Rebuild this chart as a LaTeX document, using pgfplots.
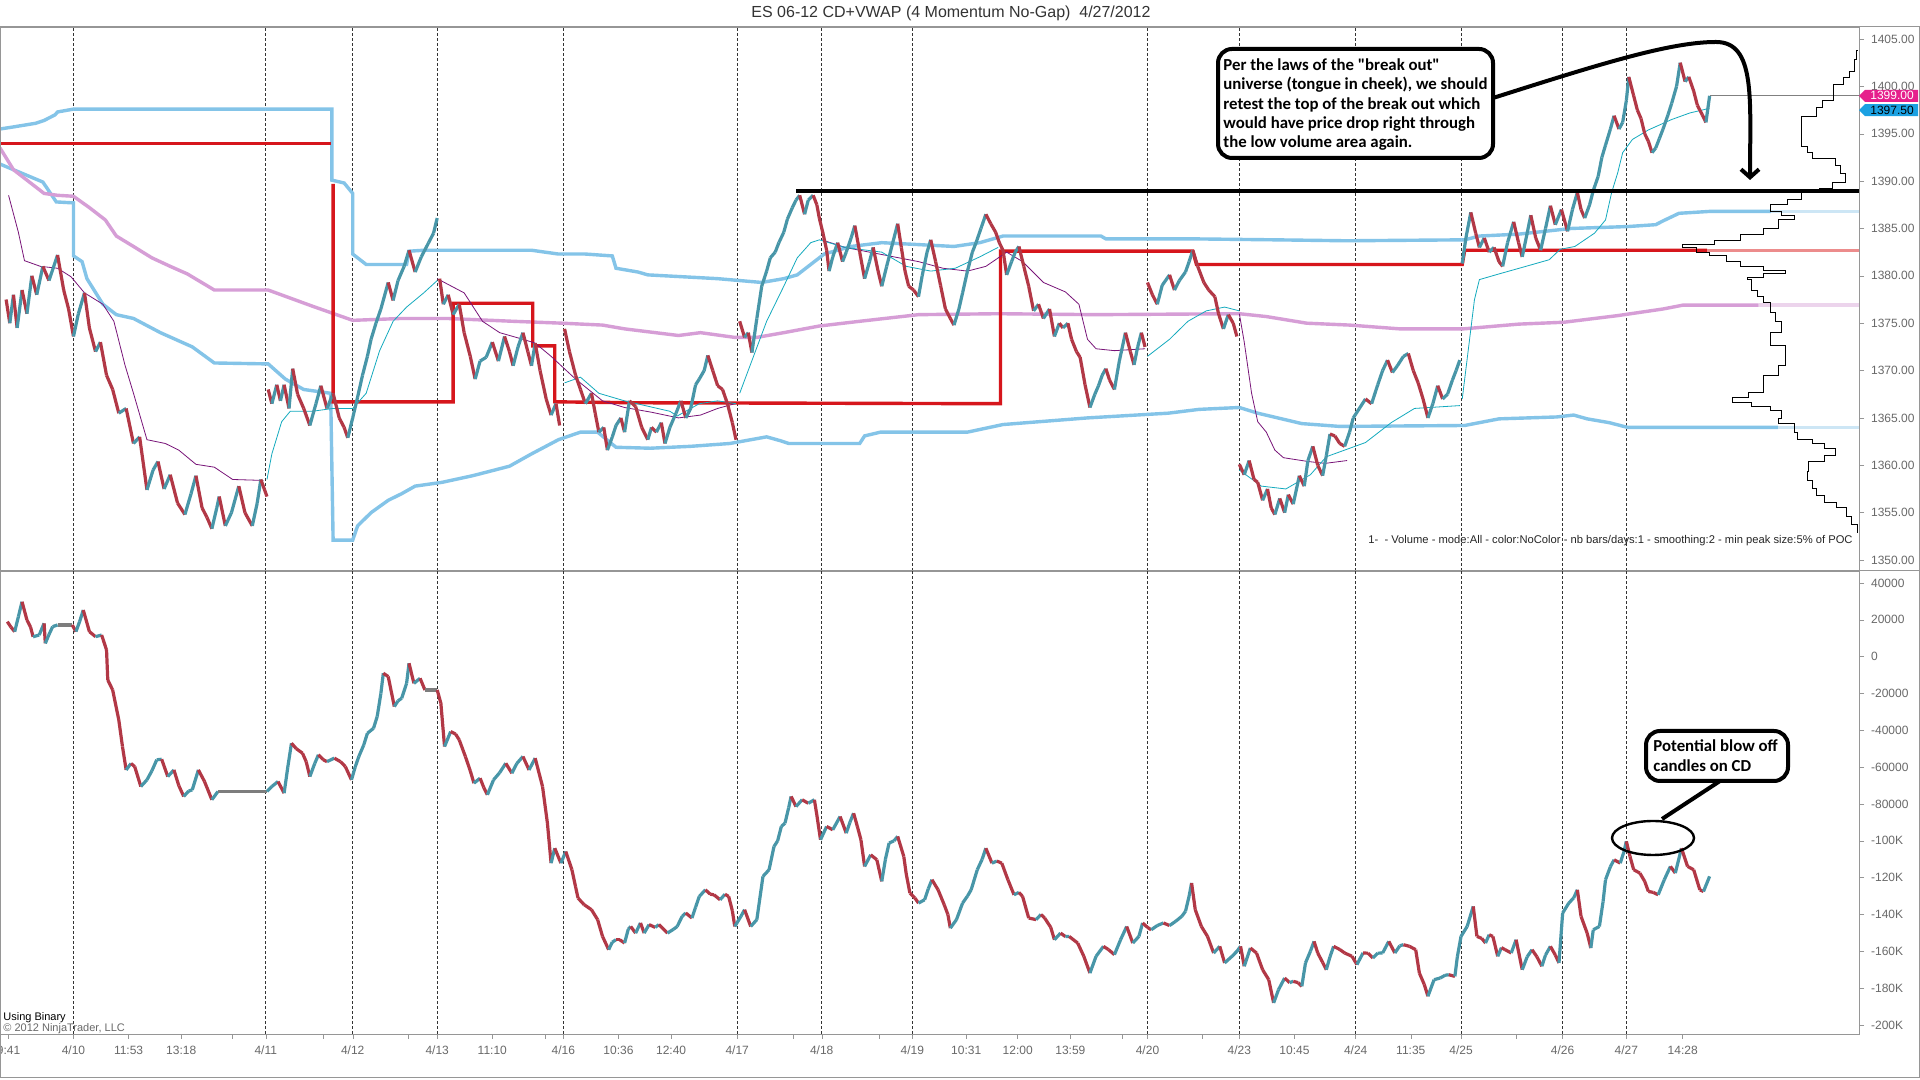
\documentclass[border=0pt]{standalone}
\usepackage{fontspec}
\setmainfont{Liberation Sans}
\newfontfamily\callfont{Carlito}
\usepackage{pgfplots}
\pgfplotsset{compat=1.18}
\usetikzlibrary{arrows.meta}
\definecolor{bandblue}{RGB}{132,196,232}
\definecolor{bandbluel}{RGB}{205,230,245}
\definecolor{pinkv}{RGB}{214,158,214}
\definecolor{pinkvl}{RGB}{236,212,236}
\definecolor{pocred}{RGB}{214,22,28}
\definecolor{pocredl}{RGB}{236,140,140}
\definecolor{thinpurple}{RGB}{120,20,120}
\definecolor{thincyan}{RGB}{20,170,190}
\definecolor{framegray}{RGB}{150,150,150}
\definecolor{labgray}{RGB}{105,105,105}
\definecolor{mkmag}{RGB}{230,32,140}
\definecolor{mkcyan}{RGB}{27,161,226}
\pgfplotsset{colormap={candle}{rgb255=(178,56,70) rgb255=(125,125,125) rgb255=(72,150,168)}}
\pgfplotsset{
  candles/.style={mesh, shader=flat corner, colormap name=candle, point meta=explicit,
    point meta min=0, point meta max=1, line width=1.6pt},
  band/.style={line width=1.7pt, bandblue},
  common/.style={scale only axis, width=929.5pt, xmin=0, xmax=1518, clip=false,
    axis line style={draw=framegray}, tick style={draw=framegray},
    tick align=outside, major tick length=2.5pt,
    ytick pos=right, yticklabel pos=right,
    yticklabel style={font=\fontsize{6}{7}\selectfont, text=labgray},
    major grid style={draw=black!80, dash pattern=on 1.5pt off 1pt, line width=0.4pt},
    extra x ticks={60,217,288,357,460,602,671,745,937,1012,1107,1193,1276,1328},
    extra x tick labels={},
    extra x tick style={grid=major, major tick length=0pt}},
}
\begin{document}
\begin{tikzpicture}
\path[use as bounding box] (0,0) rectangle (960pt,540pt);
\fill[white] (0,0) rectangle (960pt,540pt);
% ================= TOP PANEL =================
\begin{axis}[common, at={(0pt,254.5pt)}, anchor=south west, height=272pt,
  ymin=1348.84, ymax=1406.27, xtick=\empty,
  ytick={1350,1355,1360,1365,1370,1375,1380,1385,1390,1395,1400,1405},
  yticklabels={1350.00,1355.00,1360.00,1365.00,1370.00,1375.00,1380.00,1385.00,1390.00,1395.00,1400.00,1405.00}]
% upper band
\addplot[band] table {
x y
0 1395.5
10 1395.7
29 1396.1
36 1396.4
45 1397.0
47 1397.3
60 1397.6
271 1397.6
271 1390.1
281 1389.8
288 1388.7
288 1382.3
299 1381.2
332 1381.2
334 1382.6
346 1382.7
434 1382.7
456 1382.3
478 1382.3
500 1382.1
503 1380.8
521 1380.4
529 1380.1
572 1379.8
586 1379.7
622 1379.3
640 1379.7
651 1380.1
662 1381.2
673 1382.3
684 1382.7
695 1383.1
720 1383.5
779 1383.1
800 1383.5
819 1384.2
899 1384.2
903 1383.9
975 1383.9
1041 1383.8
1100 1383.7
1196 1383.8
1208 1384.2
1240 1384.4
1283 1385.0
1329 1385.2
1352 1385.4
1358 1385.8
1371 1386.6
1396 1386.8
1446 1386.8
};
\addplot[line width=1.7pt, bandbluel] table {
x y
1446 1386.8
1518 1386.8
};
% lower band
\addplot[band] table {
x y
0 1391.8
35 1389.9
46 1387.8
60 1387.7
60 1382.1
67 1381.5
71 1379.7
84 1377.0
95 1375.9
109 1375.5
131 1374.0
157 1372.5
175 1370.8
219 1370.7
233 1369.1
248 1368.0
270 1367.6
272 1352.1
288 1352.1
292 1353.6
303 1355.0
317 1356.3
328 1357.0
339 1357.8
361 1358.2
386 1358.9
416 1359.9
434 1361.2
456 1362.7
474 1363.5
488 1363.5
503 1361.9
531 1361.8
564 1362.0
596 1362.3
626 1363.0
637 1362.6
644 1362.3
702 1362.3
706 1363.1
719 1363.5
790 1363.5
819 1364.3
888 1365.0
954 1365.5
979 1365.9
1012 1366.1
1027 1365.5
1063 1364.4
1094 1364.1
1196 1364.2
1224 1364.9
1271 1365.1
1285 1365.3
1296 1364.9
1314 1364.5
1329 1364.0
1452 1364.0
};
\addplot[line width=1.7pt, bandbluel] table {
x y
1452 1364.0
1518 1364.0
};
% long vwap (pink)
\addplot[line width=1.7pt, pinkv] table {
x y
0 1393.5
11 1391.2
36 1388.7
47 1388.5
60 1388.4
73 1387.2
86 1385.9
95 1384.2
109 1383.1
124 1381.9
139 1381.0
153 1380.2
175 1378.5
219 1378.5
255 1376.8
288 1375.3
328 1375.5
365 1375.5
419 1375.2
459 1375.0
492 1374.8
510 1374.4
554 1373.7
572 1374.0
600 1373.5
618 1373.5
640 1374.0
669 1374.7
702 1375.2
750 1375.9
815 1376.0
895 1375.9
1012 1376.0
1034 1375.7
1067 1375.0
1102 1374.8
1143 1374.4
1195 1374.4
1240 1374.9
1277 1375.1
1321 1375.8
1358 1376.5
1374 1376.9
1436 1376.9
};
\addplot[line width=1.7pt, pinkvl] table {
x y
1436 1376.9
1518 1376.9
};
% red POC steps
\addplot[line width=1.7pt, pocred] table {
x y
0 1394.0
270 1394.0
};
\addplot[line width=1.7pt, pocred] table {
x y
272 1389.7
272 1366.7
370 1366.7
370 1377.1
435 1377.1
435 1372.6
453 1372.6
453 1366.7
520 1366.6
817 1366.5
817 1382.6
974 1382.6
977 1381.2
1194 1381.2
1196 1382.7
1394 1382.7
};
\addplot[line width=1.7pt, pocredl] table {
x y
1394 1382.7
1518 1382.7
};
% thin purple
\addplot[thinpurple, line width=0.4pt] table {
x y
7 1388.5
15 1384.6
20 1381.6
33 1381.0
47 1380.8
58 1379.9
69 1378.2
84 1377.0
93 1375.2
102 1370.6
109 1367.6
120 1362.7
135 1362.3
146 1361.6
160 1360.1
175 1359.8
190 1358.5
215 1358.4
};
\addplot[thinpurple, line width=0.4pt] table {
x y
357 1379.7
379 1378.2
394 1375.2
408 1374.0
427 1373.3
437 1372.9
450 1371.5
470 1369.1
492 1366.8
510 1366.1
532 1365.6
554 1365.0
572 1365.3
586 1366.0
600 1366.5
};
\addplot[thinpurple, line width=0.4pt] table {
x y
671 1383.8
690 1383.0
710 1382.5
730 1382.0
750 1381.5
770 1380.8
790 1380.5
805 1381.0
822 1382.5
835 1381.5
852 1379.3
870 1378.3
881 1377.0
888 1373.3
895 1372.3
910 1372.1
935 1372.3
};
\addplot[thinpurple, line width=0.4pt] table {
x y
1012 1376.0
1016 1373.0
1022 1367.6
1027 1364.6
1034 1363.5
1041 1361.6
1048 1360.8
1068 1360.4
1082 1360.2
1100 1360.5
};
% thin cyan
\addplot[thincyan, line width=0.4pt] table {
x y
218 1358.5
222 1361.2
230 1364.6
237 1365.7
255 1365.7
272 1366.0
288 1366.0
299 1367.6
310 1372.1
321 1375.2
332 1376.7
346 1378.2
357 1379.5
};
\addplot[thincyan, line width=0.4pt] table {
x y
461 1368.7
474 1369.3
489 1367.6
510 1366.8
547 1365.7
553 1365.2
571 1366.5
586 1366.8
601 1366.5
};
\addplot[thincyan, line width=0.4pt] table {
x y
604 1367.6
615 1371.4
626 1375.2
640 1378.9
651 1381.9
662 1383.5
669 1383.8
690 1383.0
720 1382.5
740 1381.0
760 1380.5
780 1380.8
800 1382.0
815 1383.0
};
\addplot[thincyan, line width=0.4pt] table {
x y
937 1371.5
955 1373.3
970 1375.2
985 1376.3
1000 1376.7
1012 1376.3
};
\addplot[thincyan, line width=0.4pt] table {
x y
1012 1359.5
1030 1357.8
1050 1357.5
1070 1359.0
1083 1360.9
1115 1362.4
1136 1364.5
1155 1366.0
1192 1366.3
};
\addplot[thincyan, line width=0.4pt] table {
x y
1194 1367.0
1198 1371.2
1204 1377.5
1208 1379.6
1224 1380.2
1246 1381.0
1265 1381.7
1274 1382.8
1286 1383.1
1302 1384.5
1311 1385.9
1316 1388.8
1321 1390.9
1325 1393.0
1333 1394.4
1346 1395.4
1365 1396.5
1380 1397.2
1390 1397.5
1396 1397.7
};
% price (momentum candles)
\addplot[candles] table[meta=m] {
x y m
5 1377.5 0
8 1375.0 1
11 1378.0 0
14 1374.5 1
18 1378.5 0
22 1376.0 1
26 1380.0 0
30 1378.0 1
35 1381.0 0
40 1379.5 1
47 1382.2 0
52 1378.5 0
56 1376.5 0
60 1373.6 1
64 1376.0 1
69 1378.2 0
73 1374.5 0
78 1372.0 1
82 1373.0 0
87 1369.5 0
92 1368.0 0
97 1365.5 1
103 1366.0 0
109 1362.3 1
114 1363.0 0
120 1357.4 1
125 1359.5 1
129 1360.4 0
134 1357.5 1
139 1359.0 0
145 1356.0 0
151 1354.8 1
156 1357.0 1
160 1358.9 0
165 1355.5 0
169 1354.5 0
173 1353.3 1
177 1355.5 1
179 1356.7 0
184 1353.6 1
189 1355.0 1
195 1357.8 0
200 1355.0 0
206 1353.6 1
210 1356.0 1
213 1358.5 0
218 1356.7 0
};
\addplot[candles] table[meta=m] {
x y m
219 1368.0 0
222 1366.5 1
226 1368.5 0
229 1366.8 1
232 1368.5 0
236 1366.0 1
239 1370.2 0
243 1367.5 0
248 1366.0 0
253 1364.2 1
258 1366.5 1
262 1368.4 0
267 1366.0 1
272 1367.6 0
277 1365.0 0
281 1364.0 0
284 1362.9 1
288 1365.0 1
292 1367.2 1
296 1369.5 1
300 1371.5 1
303 1373.3 1
307 1375.0 1
311 1376.5 1
317 1379.3 0
321 1377.4 1
325 1379.5 1
330 1381.0 1
334 1382.7 0
339 1380.4 1
344 1382.0 1
350 1383.5 1
354 1384.5 1
357 1386.1 1
};
\addplot[candles] table[meta=m] {
x y m
359 1379.7 0
362 1377.0 1
366 1378.0 0
370 1375.9 1
375 1377.0 0
379 1374.0 0
384 1371.5 0
388 1369.1 1
392 1371.0 1
397 1371.4 1
402 1373.0 0
407 1371.0 1
412 1373.6 0
416 1372.0 0
419 1370.5 1
423 1372.5 1
427 1374.0 0
431 1372.0 0
434 1370.5 1
437 1372.9 0
441 1370.0 0
446 1367.0 0
450 1365.3 1
454 1366.5 0
457 1364.2 0
};
\addplot[candles] table[meta=m] {
x y m
461 1374.4 0
465 1372.0 0
470 1369.5 0
474 1368.0 0
478 1366.5 1
483 1367.6 0
486 1365.5 0
489 1363.5 1
493 1364.0 0
496 1361.6 1
500 1363.0 1
503 1364.2 1
507 1365.0 0
510 1363.5 1
514 1366.8 0
519 1366.2 0
524 1364.0 0
529 1362.7 1
532 1364.0 0
536 1363.5 1
540 1364.5 0
543 1362.3 1
547 1364.0 1
552 1365.5 1
556 1366.8 0
560 1365.0 1
564 1366.0 1
568 1368.5 1
571 1369.1 1
575 1370.0 1
578 1371.6 0
582 1370.0 0
586 1368.4 0
590 1368.0 0
594 1366.5 0
598 1364.5 0
601 1362.7 0
};
\addplot[candles] table[meta=m] {
x y m
604 1375.2 0
608 1373.5 1
611 1374.0 0
614 1371.9 1
618 1375.5 1
622 1378.9 1
626 1380.5 1
629 1381.9 1
633 1382.5 1
636 1383.5 1
640 1384.6 1
643 1386.0 1
647 1387.2 1
650 1388.0 1
653 1388.5 0
657 1386.5 1
660 1388.0 1
664 1388.5 0
667 1387.5 0
669 1386.1 0
672 1384.5 0
675 1382.7 0
677 1380.5 1
680 1382.0 1
684 1383.5 0
688 1381.5 1
691 1382.5 1
695 1384.0 1
698 1385.3 0
702 1382.5 0
706 1379.7 1
710 1381.5 1
713 1383.0 0
717 1380.5 0
720 1378.9 1
724 1381.0 1
729 1383.5 1
733 1385.5 0
736 1383.0 0
739 1380.5 0
742 1378.9 0
746 1378.5 0
750 1377.8 1
753 1380.0 1
757 1382.5 1
760 1383.8 0
764 1381.5 0
768 1379.0 0
772 1376.5 0
776 1375.5 0
779 1374.8 1
783 1376.5 1
786 1378.2 1
790 1380.5 1
794 1382.5 1
797 1383.5 1
801 1385.0 1
805 1386.5 0
809 1385.5 0
813 1384.6 0
816 1383.5 0
819 1382.7 0
822 1380.1 1
826 1381.5 1
829 1382.5 1
832 1383.1 0
836 1381.0 0
840 1378.9 0
844 1376.3 1
848 1377.0 0
852 1375.5 1
857 1376.5 0
861 1373.6 1
865 1375.0 0
868 1374.5 1
872 1375.0 0
875 1373.3 0
879 1372.0 0
882 1371.4 0
886 1368.5 0
890 1366.1 1
894 1367.5 1
897 1368.4 1
900 1369.5 1
903 1370.2 0
906 1369.0 0
910 1368.0 1
914 1371.0 1
919 1374.0 0
923 1372.0 0
926 1370.6 1
929 1372.5 1
932 1374.0 0
935 1372.5 0
};
\addplot[candles] table[meta=m] {
x y m
937 1379.3 0
941 1378.0 0
945 1377.0 1
949 1379.0 1
955 1380.1 0
959 1378.5 1
963 1379.5 1
968 1380.4 1
971 1381.5 1
974 1382.7 0
978 1381.0 0
983 1379.3 0
987 1378.5 0
992 1377.8 0
995 1376.0 0
999 1374.4 1
1003 1375.9 0
1007 1375.0 0
1010 1373.6 0
};
\addplot[candles] table[meta=m] {
x y m
1012 1360.1 0
1016 1359.0 1
1020 1360.5 0
1024 1358.5 0
1027 1358.2 0
1031 1356.3 1
1035 1357.5 0
1038 1355.5 0
1041 1354.8 1
1045 1356.5 0
1049 1355.0 1
1052 1356.9 0
1056 1355.9 1
1061 1358.9 0
1065 1357.8 1
1068 1360.5 1
1072 1362.0 0
1076 1360.0 0
1080 1358.9 1
1083 1361.0 1
1086 1363.3 0
1090 1363.1 0
1094 1362.3 0
1098 1362.0 1
1102 1363.5 1
1105 1365.0 1
1110 1366.0 1
1115 1367.0 0
1120 1366.5 1
1125 1368.5 1
1129 1370.0 1
1133 1371.1 0
1137 1369.8 1
1141 1370.5 1
1146 1371.5 1
1150 1371.8 0
1154 1370.0 0
1158 1368.7 0
1162 1367.0 0
1166 1365.0 1
1170 1366.5 1
1174 1368.4 0
1178 1367.0 1
1182 1367.5 1
1186 1369.0 1
1189 1370.0 1
1192 1371.1 1
};
\addplot[candles] table[meta=m] {
x y m
1194 1381.3 1
1197 1384.0 1
1201 1386.7 0
1205 1384.5 0
1208 1383.0 1
1212 1384.0 0
1216 1382.5 1
1220 1383.0 0
1224 1381.5 0
1227 1381.0 1
1231 1383.5 1
1236 1385.7 0
1240 1383.5 0
1243 1382.0 1
1247 1384.5 1
1250 1386.4 0
1254 1384.0 0
1258 1382.7 1
1262 1385.0 1
1266 1387.4 0
1270 1385.4 1
1275 1387.0 0
1280 1384.7 1
1284 1387.0 1
1288 1388.8 0
1291 1387.0 0
1294 1386.1 1
1298 1387.5 1
1301 1389.0 1
1305 1390.5 1
1308 1392.5 1
1311 1393.8 1
1315 1395.5 1
1318 1396.9 0
1322 1395.5 1
1325 1396.2 1
1328 1398.5 1
1330 1401.0 0
1334 1399.0 0
1337 1397.5 0
1340 1396.6 0
1343 1395.0 0
1346 1394.2 0
1349 1393.0 1
1352 1393.5 1
1355 1394.5 1
1358 1395.5 1
1362 1397.0 1
1365 1398.2 1
1369 1400.0 1
1372 1402.5 0
1376 1400.5 1
1379 1401.0 0
1383 1399.5 0
1386 1398.0 0
1390 1397.0 0
1393 1396.2 1
1396 1399.0 1
};
% last price line
\addplot[gray, line width=0.4pt] table {
x y
1396 1399.0
1518 1399.0
};
% volume profile
\addplot[black, line width=0.5pt, const plot] table {
x y
1517 1403.8
1516 1402.8
1514 1401.6
1510 1400.9
1505 1400.2
1497 1399.5
1497 1398.5
1488 1397.8
1483 1396.8
1471 1396.0
1471 1393.7
1476 1393.0
1480 1392.4
1499 1391.6
1503 1390.8
1507 1389.8
1496 1389.2
1486 1388.8
1471 1388.1
1460 1387.5
1446 1386.8
1455 1386.4
1465 1385.9
1452 1385.0
1440 1384.4
1421 1383.7
1400 1383.3
1374 1383.0
1385 1382.5
1396 1382.1
1410 1381.5
1421 1381.0
1440 1380.6
1458 1380.2
1440 1379.8
1427 1379.6
1430 1378.5
1435 1377.8
1440 1377.2
1446 1376.1
1450 1375.2
1455 1374.0
1446 1372.6
1458 1371.8
1458 1370.5
1452 1369.5
1440 1367.7
1428 1367.2
1415 1366.6
1430 1366.2
1446 1365.8
1455 1364.9
1452 1364.4
1465 1363.5
1468 1362.7
1480 1362.3
1490 1361.8
1499 1361.0
1490 1360.4
1477 1359.3
1476 1358.4
1480 1357.5
1483 1356.8
1490 1356.1
1500 1355.5
1508 1354.6
1512 1353.8
1517 1352.8
};
% break-out line
\addplot[black, line width=2pt] table {
x y
650 1389.0
1518 1389.0
};
% price markers on right axis
\fill[mkmag] (axis cs:1518,1399.0) -- ++(3pt,3pt) -- ++(26.5pt,0pt) -- ++(0pt,-6pt) -- ++(-26.5pt,0pt) -- cycle;
\node[text=white, font=\fontsize{6}{7}\selectfont, inner sep=0pt] at ([xshift=16.5pt]axis cs:1518,1399.0) {1399.00};
\fill[mkcyan] (axis cs:1518,1397.5) -- ++(3pt,3pt) -- ++(26.5pt,0pt) -- ++(0pt,-6pt) -- ++(-26.5pt,0pt) -- cycle;
\node[text=black, font=\fontsize{6}{7}\selectfont, inner sep=0pt] at ([xshift=16.5pt]axis cs:1518,1397.5) {1397.50};
\end{axis}
% ================= BOTTOM PANEL (values in thousands) =================
\begin{axis}[common, at={(0pt,23pt)}, anchor=south west, height=231.5pt,
  ymin=-204.887, ymax=46.516, scaled y ticks=false,
  ytick={-200,-180,-160,-140,-120,-100,-80,-60,-40,-20,0,20,40},
  yticklabels={-200K,-180K,-160K,-140K,-120K,-100K,-80000,-60000,-40000,-20000,0,20000,40000},
  xtick pos=bottom, xticklabel pos=bottom,
  xtick={7,60,105,148,190,217,264,288,333,357,402,445,460,505,548,602,648,671,718,745,789,831,874,916,937,982,1012,1057,1107,1152,1193,1238,1276,1328,1374},
  xticklabels={9:41,4/10,11:53,13:18,,4/11,,4/12,,4/13,11:10,,4/16,10:36,12:40,4/17,,4/18,,4/19,10:31,12:00,13:59,,4/20,,4/23,10:45,4/24,11:35,4/25,,4/26,4/27,14:28},
  xticklabel style={font=\fontsize{6}{7}\selectfont, text=labgray}]
\addplot[candles] table[meta=m] {
x y m
6 19.0 0
9 16.0 0
12 13.56 1
15 21.7 1
18 29.8 0
22 19.9 0
25 16.0 0
27 10.8 1
32 11.75 1
36 18.1 0
37 7.2 1
40 12.0 1
43 16.3 1
47 17.2 0.5
59 17.2 0
62 13.6 1
65 19.0 1
68 25.3 0
73 13.6 0
78 10.85 1
83 11.75 0
87 3.6 0
88 -12.65 0
92 -18.1 0
97 -34.35 0
100 -48.8 0
103 -61.5 1
107 -58.0 0
110 -59.7 0
115 -70.5 1
120 -66.9 1
124 -62.0 1
128 -56.0 1
132 -55.7 0
137 -65.1 1
142 -61.5 0
146 -70.0 0
150 -75.9 1
154 -73.0 1
157 -72.3 1
162 -61.5 0
167 -67.8 0
173 -77.7 1
178 -73.2 0.5
218 -73.2 1
222 -70.5 1
227 -67.8 0
232 -74.1 1
235 -60.0 1
238 -47.0 0
242 -50.0 0
247 -52.4 0
250 -57.0 0
253 -65.1 1
257 -58.0 1
260 -53.3 0
264 -56.0 0
267 -57.0 1
273 -55.1 0
278 -57.0 0
282 -59.7 0
287 -66.9 1
290 -60.0 1
293 -54.2 1
297 -48.0 1
300 -41.6 1
305 -38.9 1
308 -32.5 1
311 -20.0 1
313 -9.0 0
317 -10.8 0
322 -27.1 1
325 -24.0 1
328 -22.6 1
332 -14.5 1
334 -3.6 0
338 -14.5 1
343 -11.75 0
347 -18.1 0.5
357 -18.1 0
360 -25.3 0
363 -48.8 1
368 -40.7 0
372 -42.0 0
375 -45.2 0
380 -54.2 0
384 -62.0 0
387 -68.7 1
392 -66.0 0
395 -71.0 0
398 -75.0 1
403 -66.9 1
408 -63.0 1
413 -57.9 0
418 -63.3 1
422 -58.0 1
427 -54.2 0
432 -61.5 1
437 -55.1 0
443 -70.5 0
447 -90.4 0
450 -112.1 1
453 -104.0 0
458 -112.1 1
462 -105.8 0
467 -115.7 0
470 -125.0 0
472 -131.1 0
477 -134.7 0
483 -137.4 0
488 -142.8 0
492 -151.9 0
497 -159.1 1
500 -155.0 1
503 -153.7 0
506 -153.7 0
510 -155.5 1
513 -148.0 1
515 -146.5 0
519 -150.1 1
523 -144.6 0
526 -150.1 1
530 -145.5 0
535 -147.0 1
538 -145.5 0
545 -150.1 1
550 -148.0 1
553 -146.5 1
557 -141.0 1
560 -139.2 0
565 -141.9 1
568 -136.0 1
571 -130.2 1
576 -126.6 0
580 -129.0 0
583 -129.3 0
588 -132.0 1
592 -129.0 0
595 -130.2 0
598 -138.0 0
600 -146.5 1
605 -141.0 1
608 -137.4 0
613 -146.5 1
618 -142.8 1
623 -119.3 1
628 -115.7 1
632 -103.1 1
635 -100.0 1
638 -92.2 1
641 -90.4 1
644 -82.0 1
646 -75.9 0
650 -81.4 1
655 -77.7 0
660 -79.6 1
665 -77.7 0
667 -86.0 0
670 -99.4 1
675 -92.2 0
680 -94.0 1
686 -86.8 0
691 -95.8 1
694 -90.0 1
697 -85.0 0
700 -92.0 0
703 -99.4 0
706 -113.9 1
711 -107.6 0
716 -110.3 0
720 -122.0 1
723 -110.0 1
726 -101.2 1
730 -100.0 1
733 -97.6 0
738 -108.5 0
740 -118.0 0
743 -128.4 0
747 -131.0 0
750 -133.8 1
755 -132.0 1
758 -126.0 1
761 -121.1 0
766 -126.6 0
771 -134.7 0
774 -140.0 0
776 -147.4 1
781 -142.8 1
786 -133.8 1
790 -130.0 1
793 -126.6 1
798 -115.7 1
802 -110.0 1
805 -104.0 0
810 -112.1 1
814 -111.0 0
818 -112.1 0
823 -121.1 0
828 -129.3 1
832 -128.0 0
835 -130.2 0
840 -141.9 0
846 -142.8 1
850 -140.0 0
853 -141.9 0
858 -147.0 0
861 -153.7 1
866 -150.1 0
870 -152.0 1
873 -151.9 0
880 -155.5 0
885 -162.7 0
890 -171.8 1
895 -162.7 1
901 -157.3 0
905 -159.0 0
910 -161.8 1
915 -153.7 1
920 -146.5 0
925 -155.5 1
930 -151.9 1
933 -144.6 0
937 -147.0 0
940 -148.3 1
945 -146.0 1
950 -144.6 0
955 -146.0 1
960 -143.7 1
965 -141.0 1
968 -138.3 1
971 -130.0 1
973 -122.9 0
976 -137.4 0
981 -146.5 0
986 -151.9 0
991 -160.9 1
996 -157.3 0
1000 -166.3 1
1006 -162.7 1
1010 -160.0 1
1013 -157.3 0
1016 -168.1 1
1021 -158.2 0
1026 -160.9 0
1031 -170.0 0
1036 -175.4 0
1040 -188.0 1
1044 -180.8 1
1049 -174.5 0
1053 -177.0 1
1056 -176.3 0
1060 -177.0 0
1063 -179.0 1
1066 -166.3 1
1070 -160.0 1
1073 -154.6 0
1076 -160.9 0
1080 -166.0 0
1083 -170.0 1
1086 -163.0 1
1089 -157.3 0
1094 -159.0 0
1098 -160.9 0
1104 -162.7 0
1108 -167.2 1
1113 -160.9 0
1117 -161.0 0
1121 -163.6 1
1125 -161.0 1
1129 -160.9 1
1134 -154.6 0
1139 -160.9 1
1143 -157.0 1
1146 -156.4 0
1151 -157.3 0
1156 -159.1 0
1159 -171.8 0
1163 -178.0 0
1166 -184.4 1
1171 -175.4 1
1176 -174.5 1
1180 -173.0 1
1183 -172.7 0
1188 -173.6 1
1190 -163.0 1
1193 -151.9 1
1198 -146.5 1
1203 -135.6 0
1206 -151.9 0
1210 -153.0 0
1213 -155.5 1
1216 -151.0 0
1219 -151.9 0
1223 -162.7 1
1226 -158.0 0
1229 -159.1 0
1234 -160.9 1
1238 -153.7 0
1243 -170.0 1
1247 -163.0 1
1251 -159.1 0
1255 -163.0 0
1259 -168.1 1
1262 -162.0 1
1266 -157.3 0
1270 -162.0 0
1273 -166.3 1
1276 -139.2 1
1281 -133.8 1
1285 -131.0 1
1288 -126.6 0
1291 -141.0 0
1296 -150.1 0
1299 -158.2 1
1301 -148.3 1
1306 -146.5 1
1309 -133.0 1
1311 -121.1 1
1315 -114.0 1
1318 -110.3 0
1323 -112.1 1
1326 -106.0 1
1328 -100.3 0
1331 -108.5 0
1334 -115.7 0
1339 -117.5 0
1343 -122.0 0
1346 -127.5 0
1350 -128.0 0
1354 -129.3 1
1359 -121.1 1
1364 -113.9 0
1368 -117.5 1
1373 -104.0 0
1378 -113.9 0
1383 -115.7 0
1388 -126.6 0
1391 -127.5 1
1396 -119.3 1
};
\end{axis}
% ================= FRAME AND TEXTS =================
\draw[framegray, line width=0.5pt] (0.25pt,526.5pt) -- (959.75pt,526.5pt) -- (959.75pt,1pt) -- (0.25pt,1pt) -- cycle;
\draw[framegray, line width=0.5pt] (0pt,254.5pt) -- (960pt,254.5pt);
\node[text=black!80, font=\fontsize{8}{9.5}\selectfont, inner sep=0pt] at (475.5pt,533.5pt) {ES 06-12 CD+VWAP (4 Momentum No-Gap)\ \ 4/27/2012};
\node[anchor=east, text=black!85, font=\fontsize{5.6}{6.6}\selectfont, inner sep=0pt] at (926.5pt,269.5pt) {1-\ \ - Volume - mode:All - color:NoColor - nb bars/days:1 - smoothing:2 - min peak size:5\% of POC};
\node[anchor=west, text=black, font=\fontsize{5.5}{6.5}\selectfont, inner sep=0pt] at (1.5pt,31pt) {Using Binary};
\node[anchor=west, text=labgray, font=\fontsize{5.5}{6.5}\selectfont, inner sep=0pt] at (1.5pt,25.5pt) {\textcopyright{} 2012 NinjaTrader, LLC};
% callout 1
\draw[black, line width=2pt, rounded corners=7pt, fill=white] (609pt,515.5pt) rectangle (746.5pt,461pt);
\node[anchor=north west, inner sep=0pt, align=left, font=\callfont\bfseries\fontsize{8.4}{9.65}\selectfont] at (611.5pt,510.8pt) {Per the laws of the "break out"\\universe (tongue in cheek), we should\\retest the top of the break out which\\would have price drop right through\\the low volume area again.};
\draw[black, line width=2pt, -{Straight Barb[length=4pt,width=9pt]}] (746.5pt,491pt) .. controls (800pt,508pt) and (835pt,519pt) .. (858pt,519pt) .. controls (878pt,519pt) and (875pt,490pt) .. (875pt,450pt);
% callout 2
\draw[black, line width=2pt, rounded corners=7pt, fill=white] (823pt,174.5pt) rectangle (894pt,149.5pt);
\node[anchor=north west, inner sep=0pt, align=left, font=\callfont\bfseries\fontsize{8.4}{9.65}\selectfont] at (826.5pt,170.2pt) {Potential blow off\\candles on CD};
\draw[black, line width=2pt] (860pt,149.5pt) -- (831pt,130.5pt);
\draw[black, line width=1.2pt] (826.5pt,121pt) ellipse (20.5pt and 8.5pt);
\end{tikzpicture}
\end{document}
